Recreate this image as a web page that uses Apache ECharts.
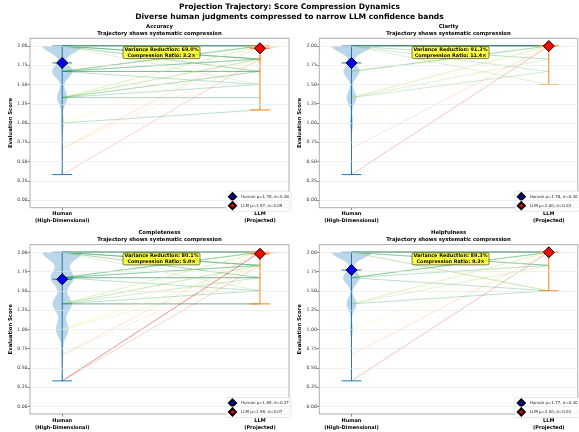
<!DOCTYPE html>
<html><head><meta charset="utf-8">
<script src="https://cdn.jsdelivr.net/npm/echarts@6/dist/echarts.min.js"></script>
<style>html,body{margin:0;padding:0;background:#fff}#c{width:579px;height:432px}</style>
</head><body><div id="c"></div>
<script>
// ---------------- DATA ----------------
const suptitleLines = ['Projection Trajectory: Score Compression Dynamics', 'Diverse human judgments compressed to narrow LLM confidence bands'];
const panelNames = ['Accuracy', 'Clarity', 'Completeness', 'Helpfulness'];
const panelSubtitle = 'Trajectory shows systematic compression';
const yTicks = [0, 0.25, 0.5, 0.75, 1, 1.25, 1.5, 1.75, 2];
const xTickLabels = ['Human\n(High-Dimensional)', 'LLM\n(Projected)'];
const yAxisName = 'Evaluation Score';

const humanLevels = [0.33, 0.67, 1.0, 1.33, 1.67, 2.0];
const llmLevels = [1.17, 1.33, 1.5, 1.67, 1.83, 2.0];

const accHumanDist = [1, 1.5, 4, 14, 27, 53];
const claHumanDist = [0.5, 0.5, 5, 14, 23, 57];
const comHumanDist = [1, 2, 13, 20, 24, 41];
const helHumanDist = [0.5, 0.5, 4, 14, 24, 57];

const accLlmDist = [0.3, 0.5, 1, 2, 10, 86];
const claLlmDist = [0, 0, 0.2, 0.3, 1, 98.5];
const comLlmDist = [0, 0.3, 0.5, 1, 7, 91];
const helLlmDist = [0, 0, 0.2, 0.3, 1.5, 98];

const humanMean = [1.78, 1.78, 1.65, 1.77];
const humanSd = [0.38, 0.30, 0.37, 0.30];
const llmMean = [1.97, 2.00, 1.98, 2.00];
const llmSd = [0.09, 0.03, 0.07, 0.03];
const varianceReduction = [69.0, 91.3, 80.1, 89.3];
const compressionRatio = [3.2, 11.4, 5.0, 9.3];

const accFrom = [2,2,2,2,2,2,2,2,2,2,2,2,1.67,1.67,1.67,1.67,1.67,1.67,1.67,1.67,1.33,1.33,1.33,1.33,1.33,1.33,1.33,1.33,1,1,1,0.67,0.67,0.33];
const accTo   = [2,2,2,2,2,2,1.83,1.83,1.83,1.67,1.67,1.5,2,2,2,1.83,1.83,1.67,1.67,1.5,2,2,1.83,1.83,1.67,1.67,1.5,1.33,2,1.83,1.17,2,1.83,1.83];
const claFrom = [2,2,2,2,2,2,2,2,2,2,2,1.67,1.67,1.33,1.33,1.33,1.33,1,0.67,0.33];
const claTo   = [2,2,2,2,2,2,2,2,1.83,1.67,1.5,2,2,2,2,1.83,1.67,2,2,2];
const comFrom = [2,2,2,2,2,2,2,2,2,2,2,2,2,2,1.67,1.67,1.67,1.67,1.67,1.67,1.67,1.67,1.33,1.33,1.33,1.33,1.33,1.33,1.33,1.33,1,1,1,1,0.67,0.67,0.33,0.33,0.33];
const comTo   = [2,2,2,2,2,2,2,2,1.83,1.83,1.83,1.67,1.67,1.5,2,2,2,1.83,1.83,1.67,1.67,1.5,2,2,1.83,1.83,1.67,1.5,1.33,1.33,2,1.83,1.83,1.67,2,1.83,2,2,1.83];
const helFrom = [2,2,2,2,2,2,2,2,2,2,2,2,1.67,1.67,1.67,1.67,1.67,1.33,1.33,1.33,1.33,1,1,0.67,0.33];
const helTo   = [2,2,2,2,2,2,2,2,1.83,1.83,1.5,1.5,2,2,2,1.83,1.5,2,2,1.83,1.5,2,1.83,2,2];

// ---------------- STYLE / LAYOUT ----------------
const FONT = 'DejaVu Sans';
const X_MIN = -0.163, X_MAX = 1.147, Y_MIN = -0.1, Y_MAX = 2.1;
const BW_FACTOR = 0.25, HALF_WIDTH = 0.1, CAP_HALF = 0.05, STEPS = 400;
const MOVE_SPAN = 1.85;
const HUMAN_COLOR = '#1f77b4', LLM_COLOR = '#ff7f0e';
const RDYLGN = ['#a50026','#d73027','#f46d43','#fdae61','#fee08b','#ffffbf','#d9ef8b','#a6d96a','#66bd63','#1a9850','#006837'];
const grids = [
  {left: 30, top: 38.3, width: 259, height: 169.4},
  {left: 319.3, top: 38.3, width: 258.5, height: 169.4},
  {left: 30, top: 244.6, width: 259, height: 169.4},
  {left: 319.3, top: 244.6, width: 258.5, height: 169.4}
];

const humanDists = [accHumanDist, claHumanDist, comHumanDist, helHumanDist];
const llmDists = [accLlmDist, claLlmDist, comLlmDist, helLlmDist];
const fromLists = [accFrom, claFrom, comFrom, helFrom];
const toLists = [accTo, claTo, comTo, helTo];

function hexToRgb(h) { return [parseInt(h.slice(1,3),16), parseInt(h.slice(3,5),16), parseInt(h.slice(5,7),16)]; }
function cmap(t) {
  t = Math.max(0, Math.min(1, t));
  const p = t * (RDYLGN.length - 1);
  const i = Math.min(RDYLGN.length - 2, Math.floor(p));
  const f = p - i;
  const a = hexToRgb(RDYLGN[i]), b = hexToRgb(RDYLGN[i+1]);
  return 'rgb(' + a.map((v,k) => Math.round(v + (b[k]-v)*f)).join(',') + ')';
}

function violinProfile(levels, weights) {
  let W = 0, m = 0;
  levels.forEach((l,k) => { W += weights[k]; m += weights[k]*l; });
  m /= W;
  let v = 0;
  levels.forEach((l,k) => { v += weights[k]*(l-m)*(l-m); });
  v /= W;
  const bw = Math.sqrt(v) * BW_FACTOR;
  const used = levels.filter((l,k) => weights[k] > 0);
  const lo = Math.min(...used), hi = Math.max(...used);
  const pts = []; let mx = 0;
  for (let s = 0; s <= STEPS; s++) {
    const y = lo + (hi - lo) * s / STEPS;
    let d = 0;
    levels.forEach((l,k) => { if (weights[k] > 0) d += weights[k] * Math.exp(-0.5 * Math.pow((y - l)/bw, 2)); });
    pts.push([y, d]); if (d > mx) mx = d;
  }
  return {lo, hi, pts: pts.map(([y,d]) => [y, d/mx])};
}

const option = {
  backgroundColor: '#fff',
  animation: false,
  title: [], grid: [], xAxis: [], yAxis: [], series: [], legend: []
};

option.title.push({
  text: suptitleLines.join('\n'), left: 289.5, top: 2, textAlign: 'center', padding: 0,
  textStyle: {fontFamily: FONT, fontSize: 7.6, fontWeight: 'bold', color: '#000', lineHeight: 10}
});

panelNames.forEach((name, i) => {
  const g = grids[i];
  const cx = g.left + g.width/2;
  option.grid.push({left: g.left, top: g.top, width: g.width, height: g.height, show: true,
    borderColor: '#777', borderWidth: 0.6, backgroundColor: 'transparent', outerBoundsMode: 'none', containLabel: false});
  option.title.push({
    text: name + '\n' + panelSubtitle, left: cx, top: g.top - 15.8, textAlign: 'center', padding: 0,
    textStyle: {fontFamily: FONT, fontSize: 5.3, fontWeight: 'bold', color: '#000', lineHeight: 7.3}
  });
  option.title.push({
    text: 'Variance Reduction: ' + varianceReduction[i].toFixed(1) + '%\nCompression Ratio: ' + compressionRatio[i].toFixed(1) + '×',
    left: cx, top: g.top + 0.05*g.height - 0.5, textAlign: 'center',
    backgroundColor: 'rgba(255,255,0,0.72)', borderColor: '#000', borderWidth: 0.5, borderRadius: 1.5,
    padding: [0.8, 2],
    textStyle: {fontFamily: FONT, fontSize: 4.9, fontWeight: 'bold', color: '#000', lineHeight: 5.6}
  });
  option.xAxis.push({
    gridIndex: i, type: 'value', min: X_MIN, max: X_MAX, position: 'bottom',
    axisLine: {show: false, onZero: false}, splitLine: {show: false},
    axisTick: {show: true, customValues: [0, 1], length: 2.5, lineStyle: {color: '#444', width: 0.6}},
    axisLabel: {show: true, customValues: [0, 1], formatter: v => xTickLabels[Math.round(v)],
      fontFamily: FONT, fontSize: 5, fontWeight: 'bold', color: '#000', lineHeight: 7, margin: 3}
  });
  option.yAxis.push({
    gridIndex: i, type: 'value', min: Y_MIN, max: Y_MAX, position: 'left',
    axisLine: {show: false, onZero: false}, splitLine: {show: false},
    axisTick: {show: true, customValues: yTicks, length: 2.5, lineStyle: {color: '#444', width: 0.6}},
    axisLabel: {show: true, customValues: yTicks, formatter: v => v.toFixed(2),
      fontFamily: FONT, fontSize: 4.6, color: '#333', margin: 2.5},
    name: yAxisName, nameLocation: 'middle', nameGap: 17,
    nameTextStyle: {fontFamily: FONT, fontSize: 5.3, fontWeight: 'bold', color: '#000'}
  });

  // horizontal grid lines
  option.series.push({
    type: 'line', xAxisIndex: i, yAxisIndex: i, z: 0, silent: true, data: [],
    markLine: {silent: true, symbol: 'none', label: {show: false},
      lineStyle: {color: '#e6e6e6', width: 0.6, type: 'solid'},
      emphasis: {disabled: true},
      data: yTicks.map(v => ({yAxis: v}))}
  });

  // violins
  const profiles = [violinProfile(humanLevels, humanDists[i]), violinProfile(llmLevels, llmDists[i])];
  const colors = [HUMAN_COLOR, LLM_COLOR];
  option.series.push({
    type: 'custom', xAxisIndex: i, yAxisIndex: i, z: 1, silent: true,
    data: [[0, 1], [1, 1]],
    renderItem: (params, api) => {
      const pos = params.dataIndex;
      const prof = profiles[pos];
      const L = [], R = [];
      prof.pts.forEach(([y, d]) => { L.push(api.coord([pos - HALF_WIDTH*d, y])); R.push(api.coord([pos + HALF_WIDTH*d, y])); });
      return {type: 'polygon', shape: {points: L.concat(R.reverse())}, style: {fill: colors[pos], opacity: 0.3}};
    }
  });

  // trajectories
  const fr = fromLists[i], to = toLists[i];
  option.series.push({
    type: 'custom', xAxisIndex: i, yAxisIndex: i, z: 2, silent: true,
    data: fr.map((f, k) => [f, to[k]]),
    renderItem: (params, api) => {
      const h = api.value(0), l = api.value(1);
      const a = api.coord([0, h]), b = api.coord([1, l]);
      return {type: 'line', shape: {x1: a[0], y1: a[1], x2: b[0], y2: b[1]},
        style: {stroke: cmap(1 - Math.abs(l - h)/MOVE_SPAN), lineWidth: 0.7, opacity: 0.42}};
    }
  });

  // extrema / mean bars
  const means = [humanMean[i], llmMean[i]];
  option.series.push({
    type: 'custom', xAxisIndex: i, yAxisIndex: i, z: 3, silent: true,
    data: [[0, 1], [1, 1]],
    renderItem: (params, api) => {
      const pos = params.dataIndex, prof = profiles[pos], c = colors[pos];
      const seg = (x1, y1, x2, y2) => {
        const a = api.coord([x1, y1]), b = api.coord([x2, y2]);
        return {type: 'line', shape: {x1: a[0], y1: a[1], x2: b[0], y2: b[1]}, style: {stroke: c, lineWidth: 1}};
      };
      return {type: 'group', children: [
        seg(pos, prof.lo, pos, prof.hi),
        seg(pos - CAP_HALF, prof.lo, pos + CAP_HALF, prof.lo),
        seg(pos - CAP_HALF, prof.hi, pos + CAP_HALF, prof.hi),
        seg(pos - CAP_HALF, means[pos], pos + CAP_HALF, means[pos])
      ]};
    }
  });

  const hName = 'Human μ=' + humanMean[i].toFixed(2) + ', σ=' + humanSd[i].toFixed(2);
  const lName = 'LLM μ=' + llmMean[i].toFixed(2) + ', σ=' + llmSd[i].toFixed(2);
  option.series.push({
    type: 'scatter', name: hName, xAxisIndex: i, yAxisIndex: i, z: 5,
    symbol: 'diamond', symbolSize: 11, data: [[0, humanMean[i]]],
    itemStyle: {color: '#0000ff', borderColor: '#000', borderWidth: 1, opacity: 1}
  });
  option.series.push({
    type: 'scatter', name: lName, xAxisIndex: i, yAxisIndex: i, z: 5,
    symbol: 'diamond', symbolSize: 11, data: [[1, llmMean[i]]],
    itemStyle: {color: '#ff0000', borderColor: '#000', borderWidth: 1, opacity: 1}
  });
  option.legend.push({
    data: [hName, lName], orient: 'vertical', selectedMode: false,
    left: g.left + g.width - 63, top: g.top + g.height - 16.5,
    icon: 'diamond', itemWidth: 7, itemHeight: 7, itemGap: 0, itemTextGap: 3,
    padding: [1, 2, 1, 2], backgroundColor: 'rgba(255,255,255,0.85)', borderColor: '#ccc', borderWidth: 0.5, borderRadius: 1.5,
    textStyle: {fontFamily: FONT, fontSize: 4, color: '#222'}
  });
});

const chart = echarts.init(document.getElementById('c'), null, {renderer: 'canvas'});
chart.setOption(option);
</script>
</body></html>
